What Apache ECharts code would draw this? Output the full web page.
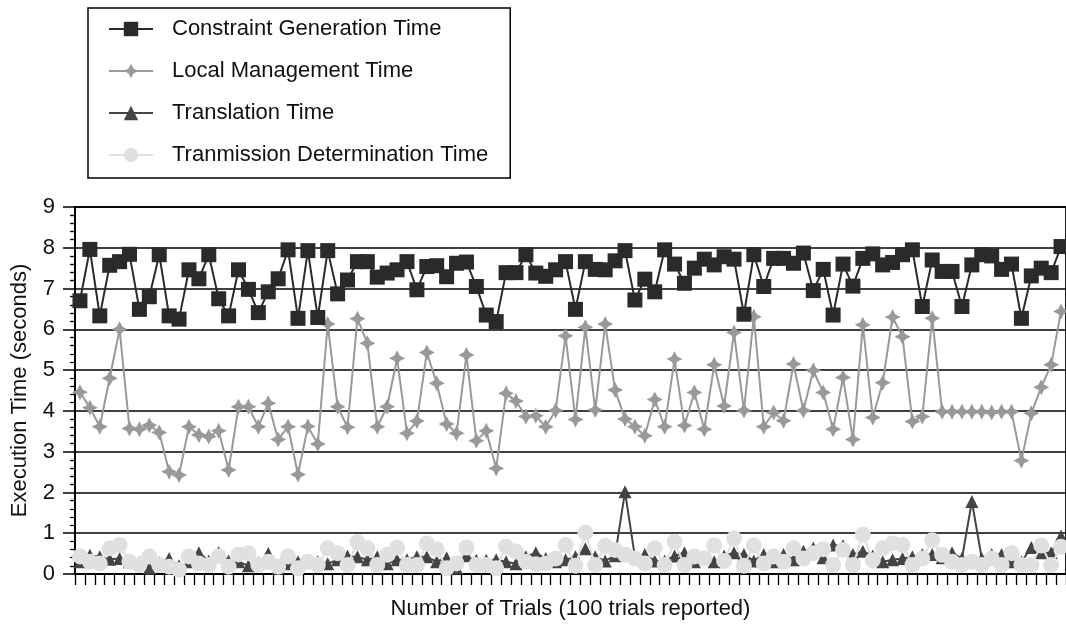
<!DOCTYPE html>
<html><head><meta charset="utf-8">
<script src="https://cdn.jsdelivr.net/npm/echarts@6/dist/echarts.min.js"></script>
<style>html,body{margin:0;padding:0;background:#fff}#c{width:1066px;height:627px}</style>
</head><body><div id="c"></div>
<script>
var trials = [];
for (var t = 1; t <= 100; t++) trials.push(String(t));

var constraintGen = [6.70,7.96,6.33,7.57,7.66,7.84,6.49,6.80,7.83,6.33,
6.25,7.46,7.24,7.83,6.75,6.33,7.46,6.98,6.41,6.92,
7.24,7.95,6.27,7.93,6.29,7.93,6.87,7.21,7.66,7.66,
7.28,7.38,7.46,7.66,6.97,7.54,7.56,7.29,7.62,7.65,
7.05,6.35,6.19,7.39,7.39,7.83,7.38,7.30,7.46,7.66,
6.49,7.66,7.47,7.46,7.68,7.93,6.72,7.23,6.92,7.95,
7.60,7.13,7.50,7.72,7.58,7.78,7.72,6.37,7.83,7.05,
7.74,7.74,7.62,7.87,6.95,7.47,6.35,7.60,7.06,7.74,
7.85,7.58,7.64,7.83,7.95,6.56,7.70,7.42,7.42,6.56,
7.58,7.83,7.80,7.47,7.60,6.27,7.31,7.50,7.39,8.03];

var localMgmt = [4.46,4.08,3.61,4.80,6.00,3.57,3.55,3.65,3.47,2.51,
2.43,3.61,3.41,3.37,3.51,2.55,4.10,4.10,3.61,4.19,
3.30,3.61,2.44,3.62,3.19,6.13,4.10,3.60,6.26,5.66,
3.61,4.10,5.29,3.45,3.75,5.43,4.68,3.68,3.45,5.37,
3.27,3.51,2.59,4.43,4.24,3.86,3.88,3.61,4.01,5.84,
3.79,6.05,4.02,6.13,4.51,3.80,3.61,3.39,4.28,3.61,
5.27,3.64,4.45,3.55,5.13,4.12,5.92,4.01,6.31,3.61,
3.96,3.76,5.15,4.01,4.99,4.45,3.55,4.82,3.30,6.11,
3.84,4.69,6.30,5.82,3.74,3.86,6.27,3.98,3.98,3.98,
3.98,3.98,3.96,3.98,3.98,2.78,3.94,4.58,5.13,6.44];

var translation = [0.30,0.46,0.42,0.36,0.38,0.30,0.28,0.15,0.28,0.38,
0.20,0.30,0.52,0.32,0.52,0.32,0.30,0.20,0.28,0.50,
0.15,0.25,0.30,0.32,0.30,0.25,0.35,0.44,0.42,0.35,
0.42,0.25,0.35,0.35,0.42,0.42,0.30,0.40,0.15,0.45,
0.34,0.34,0.35,0.30,0.25,0.42,0.52,0.38,0.30,0.35,
0.42,0.62,0.42,0.32,0.45,2.02,0.42,0.48,0.32,0.32,
0.44,0.52,0.30,0.40,0.30,0.44,0.52,0.48,0.32,0.48,
0.30,0.48,0.35,0.56,0.64,0.40,0.71,0.69,0.48,0.56,
0.44,0.30,0.35,0.38,0.42,0.48,0.48,0.40,0.52,0.38,
1.78,0.38,0.48,0.48,0.30,0.30,0.65,0.52,0.52,0.93];

var transmission = [0.43,0.30,0.26,0.63,0.71,0.30,0.22,0.43,0.22,0.18,
0.10,0.43,0.26,0.22,0.43,0.18,0.48,0.51,0.22,0.30,
0.18,0.43,0.14,0.30,0.22,0.63,0.51,0.22,0.78,0.63,
0.22,0.47,0.65,0.22,0.22,0.75,0.61,0.14,0.26,0.65,
0.22,0.22,0.14,0.67,0.55,0.30,0.24,0.26,0.38,0.71,
0.20,1.02,0.22,0.69,0.59,0.47,0.38,0.26,0.63,0.22,
0.79,0.22,0.43,0.38,0.70,0.32,0.87,0.20,0.70,0.26,
0.43,0.30,0.63,0.38,0.51,0.61,0.22,0.59,0.22,0.96,
0.34,0.63,0.75,0.71,0.22,0.38,0.83,0.47,0.30,0.22,
0.30,0.22,0.38,0.22,0.51,0.22,0.22,0.70,0.22,0.67];

var seriesNames = ['Constraint Generation Time','Local Management Time','Translation Time','Tranmission Determination Time'];
var yTicks = [0,1,2,3,4,5,6,7,8,9];

var FONT = '"Liberation Sans", Arial, Helvetica, sans-serif';
var star = 'path://M5,0 L6.7,3.3 L10,5 L6.7,6.7 L5,10 L3.3,6.7 L0,5 L3.3,3.3 Z';

var chart = echarts.init(document.getElementById('c'), null, {renderer:'canvas'});
chart.setOption({
  animation: false,
  backgroundColor: '#fff',
  textStyle: {fontFamily: FONT},
  legend: {
    orient: 'vertical', left: 88, top: 8,
    padding: [10, 22, 12, 20],
    itemGap: 20, itemWidth: 44, itemHeight: 18,
    borderColor: '#000', borderWidth: 1.5,
    textStyle: {fontSize: 22, color: '#111', fontFamily: FONT, padding: [0,0,0,14]},
    data: seriesNames
  },
  grid: {left: 75, right: 0, top: 207, bottom: 53, show: true, borderColor: '#222', borderWidth: 2, backgroundColor: 'transparent'},
  xAxis: {
    type: 'category', data: trials, boundaryGap: true,
    name: 'Number of Trials (100 trials reported)', nameLocation: 'middle', nameGap: 24,
    nameTextStyle: {fontSize: 22, color: '#111', fontFamily: FONT},
    axisLine: {lineStyle: {color: '#000', width: 2}},
    axisTick: {show: true, interval: 0, length: 11, lineStyle: {color: '#000', width: 1.3}},
    axisLabel: {show: false},
    splitLine: {show: false}
  },
  yAxis: {
    type: 'value', min: yTicks[0], max: yTicks[yTicks.length-1], interval: 1,
    name: 'Execution Time (seconds)', nameLocation: 'middle', nameGap: 44, nameRotate: 90,
    nameTextStyle: {fontSize: 22, color: '#111', fontFamily: FONT},
    axisLine: {show: true, lineStyle: {color: '#000', width: 2}},
    axisTick: {show: true, length: 12, lineStyle: {color: '#000', width: 1.5}},
    minorTick: {show: true, splitNumber: 5, length: 5, lineStyle: {color: '#000', width: 1.3}},
    axisLabel: {fontSize: 22, color: '#111', margin: 20, fontFamily: FONT},
    splitLine: {show: true, lineStyle: {color: '#000', width: 1.5}}
  },
  series: [
    {name: seriesNames[0], type: 'line', data: constraintGen, symbol: 'rect', symbolSize: 15, showAllSymbol: true,
     itemStyle: {color: '#2a2a2a'}, lineStyle: {color: '#2a2a2a', width: 2}, z: 3},
    {name: seriesNames[1], type: 'line', data: localMgmt, symbol: star, symbolSize: 16, showAllSymbol: true,
     itemStyle: {color: '#999'}, lineStyle: {color: '#999', width: 2}, z: 2},
    {name: seriesNames[2], type: 'line', data: translation, symbol: 'triangle', symbolSize: 13, showAllSymbol: true,
     itemStyle: {color: '#444'}, lineStyle: {color: '#444', width: 2}, z: 4},
    {name: seriesNames[3], type: 'line', data: transmission, symbol: 'circle', symbolSize: 16, showAllSymbol: true,
     itemStyle: {color: '#e0e0e0'}, lineStyle: {color: '#e0e0e0', width: 2}, z: 5}
  ]
});
</script></body></html>
